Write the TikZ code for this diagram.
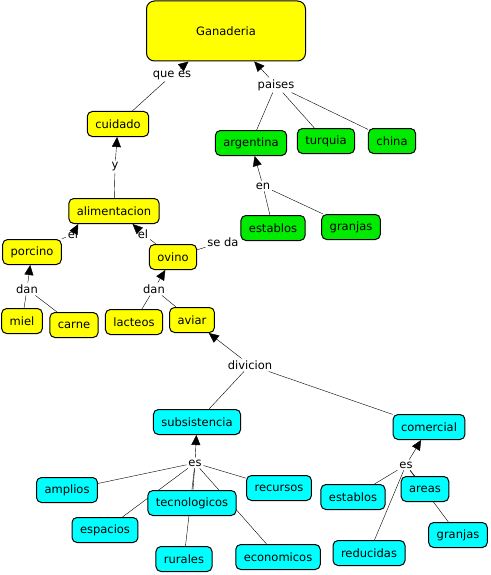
\documentclass[tikz,border=0pt]{standalone}
\usepackage{fontspec}
\setmainfont{DejaVu Sans}
\usetikzlibrary{arrows.meta,backgrounds}
\definecolor{cyel}{RGB}{255,255,0}
\definecolor{cgrn}{RGB}{0,235,0}
\definecolor{ccyn}{RGB}{0,255,255}

\begin{document}
\begin{tikzpicture}[x=1pt, y=-1pt, >={Triangle[length=10pt,width=9pt]}, line width=1pt,
  concept/.style={draw, rounded corners=5pt, inner xsep=8pt, inner ysep=2pt, minimum height=25pt, font=\fontsize{11.5}{13}\selectfont},
  yel/.style={concept, fill=cyel}, grn/.style={concept, fill=cgrn}, cyn/.style={concept, fill=ccyn},
  link/.style={inner sep=1.5pt, font=\fontsize{11.5}{13}\selectfont}]
\useasboundingbox (0,0) rectangle (490,575);
% yellow part
\node[yel, rounded corners=8pt, minimum width=159pt, minimum height=60pt] (gan) at (226,31) {Ganaderia};
\node[yel] (cui) at (118,124) {cuidado};
\node[yel] (ali) at (114,211) {alimentacion};
\node[yel] (por) at (32,252) {porcino};
\node[yel] (ovi) at (173,257) {ovino};
\node[yel] (mie) at (22,321) {miel};
\node[yel] (car) at (74,325) {carne};
\node[yel] (lac) at (134,322) {lacteos};
\node[yel] (avi) at (192,320) {aviar};
% green part
\node[grn] (arg) at (251,143) {argentina};
\node[grn] (tur) at (326,141) {turquia};
\node[grn] (chi) at (392,141) {china};
\node[grn] (esg) at (273,228) {establos};
\node[grn] (grg) at (351,227) {granjas};
% cyan part
\node[cyn] (sub) at (197,422) {subsistencia};
\node[cyn] (com) at (429,427) {comercial};
\node[cyn] (amp) at (67,490) {amplios};
\node[cyn] (tec) at (192,503) {tecnologicos};
\node[cyn] (rec) at (279,488) {recursos};
\node[cyn] (esp) at (105,530) {espacios};
\node[cyn] (rur) at (184,559) {rurales};
\node[cyn] (eco) at (278,557) {economicos};
\node[cyn] (esc) at (353,497) {establos};
\node[cyn] (are) at (425,489) {areas};
\node[cyn] (grc) at (458,535) {granjas};
\node[cyn] (red) at (369,553) {reducidas};
% link labels
\node[link] (queEs) at (172,75) {que es};
\node[link] (paises) at (276,85) {paises};
\node[link] (yy) at (115,167) {y};
\node[link] (en) at (263,186) {en};
\node[link] (elA) at (73,234) {el};
\node[link] (elB) at (143,234) {el};
\node[link] (seDa) at (223,242) {se da};
\node[link] (danA) at (27,289) {dan};
\node[link] (danB) at (154,289) {dan};
\node[link] (div) at (250,365) {divicion};
\node[link] (esA) at (195,463) {es};
\node[link] (esB) at (406,465) {es};
\begin{scope}[on background layer]
\draw (cui) -- (queEs);\draw[->] (queEs) -- (gan);
\draw (arg) -- (paises);\draw (tur) -- (paises);\draw (chi) -- (paises);\draw[->] (paises) -- (gan);
\draw (ali) -- (yy);\draw[->] (yy) -- (cui);
\draw (esg) -- (en);\draw (grg) -- (en);\draw[->] (en) -- (arg);
\draw (por) -- (elA);\draw[->] (elA) -- (ali.-160);
\draw (ovi) -- (elB);\draw[->] (elB) -- (ali.-35);
\draw (ovi) -- (seDa);
\draw (mie) -- (danA);\draw (car) -- (danA);\draw[->] (danA) -- (por);
\draw (lac) -- (danB);\draw (avi) -- (danB);\draw[->] (danB) -- (ovi);
\draw (sub) -- (div);\draw (com) -- (div);\draw[->] (div) -- (avi);
\foreach \n in {amp,tec,rec,esp,rur,eco} \draw (\n) -- (esA);
\draw[->] (esA) -- (sub);
\foreach \n in {esc,are,grc,red} \draw (\n) -- (esB);
\draw[->] (esB) -- (com);
\end{scope}
\end{tikzpicture}
\end{document}
